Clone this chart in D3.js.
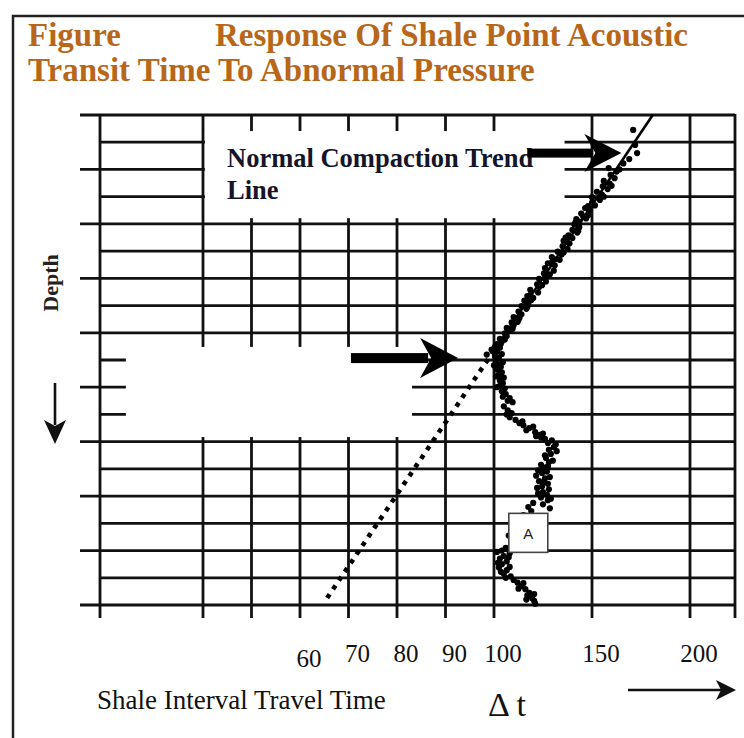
<!DOCTYPE html>
<html>
<head>
<meta charset="utf-8">
<script src="https://cdn.jsdelivr.net/npm/d3@7"></script>
<style>
  body { margin: 0; background: #fff; }
  svg { display: block; }
</style>
</head>
<body>
<svg id="chart" width="744" height="738"></svg>
<script>
// Grid values on the transit time axis and depth rows
const gridDt = [40, 50, 60, 70, 80, 90, 100, 150, 200];
const tickLabels = [60, 70, 80, 90, 100, 150, 200];
const depthRows = [0, 1, 2, 3, 4, 5, 6, 7, 8, 9, 10, 11, 12, 13, 14, 15, 16, 17, 18];

// Normal compaction trend line [depth, dt]
const trendSolid = [[0, 181], [8.65, 100]];
const trendDotted = [[8.65, 100], [17.9, 65]];

// Shale point readings [depth, dt]
const shalePoints = [
  [0.55, 171], [1.10, 172], [1.40, 173], [1.62, 169], [1.78, 166], [1.95, 158.5],
  [2.00, 164], [2.08, 162.5], [2.20, 159.5], [2.32, 161.5], [2.42, 156], [2.52, 159],
  [2.60, 160], [2.62, 155.5], [2.72, 158], [2.82, 152.5], [2.92, 155], [3.00, 156],
  [3.02, 150], [3.12, 154], [3.22, 150], [3.32, 151.5], [3.35, 148], [3.42, 146.5],
  [3.52, 148.5], [3.62, 144.5], [3.68, 148], [3.72, 145.5], [3.80, 147], [3.82, 142],
  [3.92, 143.5], [3.95, 141.5], [4.02, 141], [4.12, 143.5], [4.22, 140], [4.25, 143],
  [4.32, 142.5], [4.42, 138], [4.50, 136.5], [4.52, 140], [4.62, 135.5], [4.72, 138.5],
  [4.82, 135], [4.92, 137.5], [5.02, 132.5], [5.05, 135.5], [5.12, 134.5], [5.22, 129.5],
  [5.30, 131], [5.32, 133.5], [5.42, 129.5], [5.45, 127.5], [5.52, 131], [5.62, 126],
  [5.72, 130.5], [5.82, 125.5], [5.85, 128.5], [5.92, 127], [6.00, 126], [6.02, 123],
  [6.12, 126.5], [6.22, 122], [6.25, 124.5], [6.32, 123], [6.42, 118.5], [6.52, 122.5],
  [6.62, 118.5], [6.65, 117], [6.72, 120], [6.80, 119], [6.82, 115.5], [6.92, 117.5],
  [7.02, 114], [7.05, 117], [7.12, 116.5], [7.22, 112.5], [7.32, 114], [7.42, 110],
  [7.45, 113], [7.52, 112.5], [7.60, 112], [7.62, 109], [7.72, 110], [7.82, 106.5],
  [7.85, 109.5], [7.92, 108.5], [8.02, 105.5], [8.12, 106.5], [8.22, 103], [8.25, 105.5],
  [8.32, 104], [8.40, 103.5], [8.42, 101.5], [8.52, 100.5], [8.55, 103], [8.62, 99.5],
  [8.70, 101.5], [8.78, 104], [8.80, 98.5], [8.85, 100.5], [8.92, 102.5], [9.00, 101],
  [9.08, 104.5], [9.15, 102], [9.20, 100], [9.25, 103.5], [9.35, 101.5], [9.45, 104],
  [9.55, 102.5], [9.60, 101], [9.65, 105], [9.75, 103], [9.85, 104.5], [9.95, 103],
  [10.00, 101.5], [10.05, 105.5], [10.15, 104], [10.25, 106], [10.35, 104.5], [10.40, 108],
  [10.50, 107], [10.55, 109.5], [10.70, 105], [10.85, 107], [10.95, 109], [11.00, 106.5],
  [11.10, 108], [11.20, 111], [11.25, 114.5], [11.32, 113], [11.40, 115], [11.45, 120],
  [11.50, 118], [11.58, 116.5], [11.65, 121], [11.70, 125], [11.75, 123.5], [11.80, 121.5],
  [11.85, 124], [11.90, 126], [11.95, 129.5], [12.05, 127.5], [12.10, 131.5], [12.20, 130.5],
  [12.30, 128], [12.35, 132], [12.45, 129], [12.50, 126], [12.60, 126.5], [12.70, 130],
  [12.75, 128], [12.85, 124], [12.90, 127.5], [12.95, 125.5], [13.05, 122.5], [13.10, 127],
  [13.15, 124.5], [13.25, 121.5], [13.30, 128.5], [13.35, 126], [13.45, 123], [13.50, 125],
  [13.55, 127.5], [13.65, 124.5], [13.70, 122], [13.75, 128], [13.85, 125], [13.90, 122.5],
  [13.95, 127], [14.05, 124], [14.10, 129], [14.15, 127.5], [14.25, 120], [14.30, 125],
  [14.40, 117.5], [14.45, 128.5], [14.55, 119], [14.70, 115], [14.95, 113], [15.20, 110.5],
  [15.45, 107.5], [15.90, 106], [16.00, 104], [16.05, 101.5], [16.10, 108], [16.20, 105],
  [16.25, 107.5], [16.30, 103], [16.40, 106.5], [16.45, 102], [16.50, 104], [16.60, 108],
  [16.62, 102.5], [16.72, 106.5], [16.78, 103.5], [16.85, 105], [16.95, 108.5], [17.00, 106],
  [17.08, 110], [17.18, 112], [17.20, 115], [17.30, 114], [17.40, 112.5], [17.42, 116],
  [17.55, 118], [17.60, 120.5], [17.65, 117], [17.75, 119.5], [17.80, 116.5], [17.85, 120.5],
  [17.95, 121]
];

// Annotation anchors [dtFrom, dtTo, depth] and label box [dt, depth]
const upperArrow = [117, 165, 1.4];
const middleArrow = [70.5, 92.6, 8.93];
const boxA = [117.5, 15.35];
// Blank (cut-out) areas of the grid [dt0, dt1, depth0, depth1]
const blankAreas = [[40.4, 136, 0.59, 3.79], [24.1, 83.1, 8.52, 11.83]];

const serif = "'Liberation Serif', 'Times New Roman', serif";
const svg = d3.select("#chart");
const plotLeft = 100, plotRight = 735, plotTop = 115, plotBottom = 605;

// piecewise scale like the graph paper: 10 units wide below 100, 50 units above
const x = d3.scaleLinear().domain([40, 100, 200]).range([203, 494, 690]);
const y = d3.scaleLinear().domain([0, 18]).range([plotTop, plotBottom]);

// outer frame
svg.append("path")
  .attr("d", "M13,738 L13,16 L744,16")
  .attr("fill", "none").attr("stroke", "#222").attr("stroke-width", 2.5);

// Title
const title = svg.append("g")
  .attr("font-family", serif).attr("font-weight", "bold")
  .attr("font-size", 33).attr("fill", "#b8671a");
title.append("text").attr("x", 28).attr("y", 46).text("Figure");
title.append("text").attr("x", 215).attr("y", 46).text("Response Of Shale Point Acoustic");
title.append("text").attr("x", 28).attr("y", 81).text("Transit Time To Abnormal Pressure");

// Grid
const grid = svg.append("g").attr("stroke", "#111").attr("stroke-width", 2.8);

grid.selectAll(".h").data(depthRows).enter()
  .append("line")
  .attr("x1", d => d % 2 === 0 ? 80 : plotLeft)
  .attr("x2", plotRight)
  .attr("y1", d => y(d)).attr("y2", d => y(d));

grid.selectAll(".v").data(gridDt).enter()
  .append("line")
  .attr("x1", d => x(d)).attr("x2", d => x(d))
  .attr("y1", plotTop - 1).attr("y2", plotBottom + 13);

grid.append("line").attr("x1", plotLeft).attr("x2", plotLeft).attr("y1", plotTop - 1).attr("y2", plotBottom + 13);
grid.append("line").attr("x1", plotRight).attr("x2", plotRight).attr("y1", plotTop - 1).attr("y2", plotBottom + 13);

// cut-outs
svg.selectAll(".blank").data(blankAreas).enter()
  .append("rect")
  .attr("x", d => x(d[0]))
  .attr("y", d => y(d[2]))
  .attr("width", d => x(d[1]) - x(d[0]))
  .attr("height", d => y(d[3]) - y(d[2]))
  .attr("fill", "#fff");

// Trend line
const line = d3.line().x(d => x(d[1])).y(d => y(d[0]));

svg.append("path")
  .attr("d", line(trendSolid))
  .attr("fill", "none").attr("stroke", "#000").attr("stroke-width", 2.6);

svg.append("path")
  .attr("d", line(trendDotted))
  .attr("fill", "none").attr("stroke", "#000")
  .attr("stroke-width", 4.6).attr("stroke-dasharray", "4.5,6");

// Points
svg.append("g").selectAll("circle")
  .data(shalePoints).enter()
  .append("circle")
  .attr("cx", d => x(d[1]))
  .attr("cy", d => y(d[0]))
  .attr("r", 3.1)
  .attr("fill", "#000");

// Annotation text
const note = svg.append("g")
  .attr("font-family", serif).attr("font-weight", "bold")
  .attr("font-size", 26.5).attr("fill", "#15152a");
note.append("text").attr("x", 227).attr("y", 167).text("Normal Compaction Trend");
note.append("text").attr("x", 227).attr("y", 199).text("Line");

// Thick arrows
function thickArrow(a, shaft, headLen, headHalf) {
  const x0 = x(a[0]), x1 = x(a[1]), yy = y(a[2]);
  svg.append("rect")
    .attr("x", x0).attr("y", yy - shaft / 2)
    .attr("width", x1 - headLen + 8 - x0).attr("height", shaft)
    .attr("fill", "#000");
  svg.append("path")
    .attr("d", `M${x1},${yy} L${x1 - headLen},${yy - headHalf} L${x1 - headLen + 11},${yy} L${x1 - headLen},${yy + headHalf} Z`)
    .attr("fill", "#000");
}
thickArrow(upperArrow, 9, 37, 19);
thickArrow(middleArrow, 10, 38, 20);

// Box A
svg.append("rect")
  .attr("x", x(boxA[0]) - 19.5).attr("y", y(boxA[1]) - 19.5)
  .attr("width", 39).attr("height", 39)
  .attr("fill", "#fff").attr("stroke", "#444").attr("stroke-width", 1.6);
svg.append("text")
  .attr("x", x(boxA[0])).attr("y", y(boxA[1]) + 6)
  .attr("text-anchor", "middle")
  .attr("font-family", "'Liberation Sans', Arial, sans-serif")
  .attr("font-size", 15).attr("fill", "#222")
  .text("A");

// Tick labels
svg.append("g").selectAll("text")
  .data(tickLabels).enter()
  .append("text")
  .attr("x", d => x(d) + 9)
  .attr("y", d => d === 60 ? 667 : 662)
  .attr("text-anchor", "middle")
  .attr("font-family", serif).attr("font-size", 25).attr("fill", "#111")
  .text(d => d);

// Axis titles
svg.append("text")
  .attr("x", 97).attr("y", 709)
  .attr("font-family", serif).attr("font-size", 27).attr("fill", "#111")
  .text("Shale Interval Travel Time");

svg.append("text")
  .attr("x", 488).attr("y", 716)
  .attr("font-family", serif).attr("font-size", 34).attr("fill", "#111")
  .text("\u0394 t");

svg.append("text")
  .attr("transform", "translate(58,283) rotate(-90)")
  .attr("text-anchor", "middle")
  .attr("font-family", serif).attr("font-weight", "bold")
  .attr("font-size", 22).attr("fill", "#222")
  .text("Depth");

// Direction arrows
svg.append("line")
  .attr("x1", 55).attr("x2", 55).attr("y1", 383).attr("y2", 425)
  .attr("stroke", "#111").attr("stroke-width", 2.6);
svg.append("path")
  .attr("d", "M55,444 L44,420 L55,426 L66,420 Z").attr("fill", "#111");

svg.append("line")
  .attr("x1", 628).attr("x2", 724).attr("y1", 690).attr("y2", 690)
  .attr("stroke", "#111").attr("stroke-width", 2.6);
svg.append("path")
  .attr("d", "M736,690 L716,680 L721,690 L716,700 Z").attr("fill", "#111");
</script>
</body>
</html>
